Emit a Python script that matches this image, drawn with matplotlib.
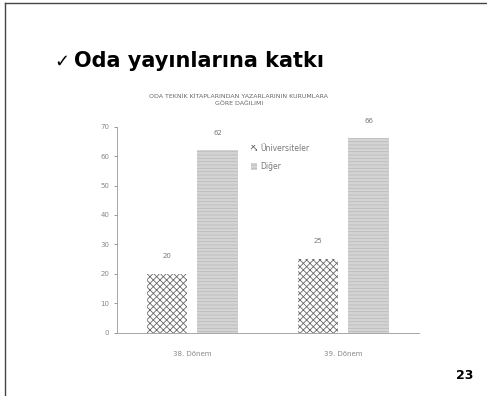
import matplotlib.pyplot as plt
import numpy as np

# Data
donemler = ["38. Dönem", "39. Dönem"]
universiteler = [20, 25]
diger = [62, 66]

plt.rcParams["hatch.linewidth"] = 0.6

fig = plt.figure(figsize=(4.87, 3.96), dpi=100)

# slide frame (left and top edges)
fig.add_artist(plt.Line2D([0.011, 0.011], [0.0, 0.993], color="#444444", lw=1.0))
fig.add_artist(plt.Line2D([0.011, 1.0], [0.993, 0.993], color="#444444", lw=1.0))

# slide title and page number
fig.text(0.112, 0.845, "✓", fontsize=13, color="black", va="center")
fig.text(0.152, 0.845, "Oda yayınlarına katkı", fontsize=15, fontweight="bold",
         family="DejaVu Sans", va="center")
fig.text(0.955, 0.052, "23", fontsize=9, fontweight="bold", ha="center", va="center")

# chart title
fig.text(0.49, 0.748, "ODA TEKNİK KİTAPLARINDAN YAZARLARININ KURUMLARA\nGÖRE DAĞILIMI",
         fontsize=4.5, color="#666666", ha="center", va="center", linespacing=1.6)

ax = fig.add_axes([0.24, 0.16, 0.62, 0.52])
x = np.arange(len(donemler))
w = 0.27
b1 = ax.bar(x - w / 2 - 0.033, universiteler, w, color="white", edgecolor="#6a6a6a",
            hatch="xxxxx", linewidth=0, label="Üniversiteler")
b2 = ax.bar(x + w / 2 + 0.033, diger, w, color="#d4d4d4", edgecolor="#bcbcbc",
            hatch="-----", linewidth=0, label="Diğer")

for bars, vals in [(b1, universiteler), (b2, diger)]:
    for bar, v in zip(bars, vals):
        ax.text(bar.get_x() + bar.get_width() / 2, v + 5, str(v),
                ha="center", va="bottom", fontsize=5, color="#777777")

ax.set_ylim(0, 70)
ax.set_yticks(range(0, 71, 10))
ax.set_xlim(-0.5, 1.5)
ax.set_xticks(x)
ax.set_xticklabels(donemler)
ax.tick_params(axis="both", labelsize=5, colors="#888888", length=2, width=0.6)
ax.tick_params(axis="x", length=0, pad=13)
for s in ["top", "right"]:
    ax.spines[s].set_visible(False)
ax.spines["left"].set_color("#999999")
ax.spines["bottom"].set_color("#999999")
ax.spines["left"].set_linewidth(0.6)
ax.spines["bottom"].set_linewidth(0.6)

leg = ax.legend(loc="upper left", bbox_to_anchor=(0.42, 0.95), frameon=False,
                fontsize=5.5, handlelength=0.9, handleheight=0.9,
                handletextpad=0.4, labelspacing=1.2)
for t in leg.get_texts():
    t.set_color("#777777")

fig.savefig("out.png", dpi=100)
